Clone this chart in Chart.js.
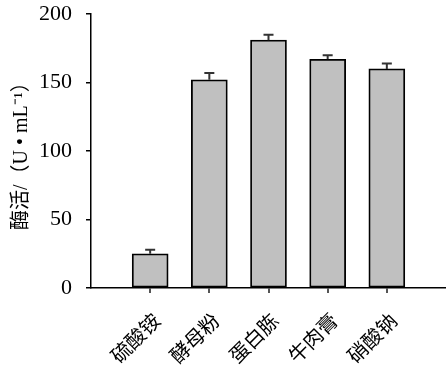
<!DOCTYPE html>
<html>
<head>
<meta charset="utf-8">
<script src="https://cdn.jsdelivr.net/npm/chart.js@4"></script>
<style>
  body { margin: 0; background: #fff; }
</style>
</head>
<body>
<canvas id="enzymeChart" width="446" height="367"></canvas>
<script>
  // nitrogen sources and enzyme activity (U/mL)
  const categories = ["硫酸铵", "酵母粉", "蛋白胨", "牛肉膏", "硝酸钠"];
  const activity = [25, 152, 181, 167, 160];
  const errors = [3, 5, 4, 3, 4];
  const yTicks = [0, 50, 100, 150, 200];

  const serif = "'Liberation Serif', 'Noto Sans CJK SC', serif";

  // draw the upward error bars through the chart scales
  const errorBars = {
    id: "errorBars",
    afterDatasetsDraw(chart) {
      const ctx = chart.ctx;
      const xs = chart.scales.x;
      const ys = chart.scales.y;
      ctx.save();
      ctx.strokeStyle = "#333";
      ctx.lineWidth = 2;
      activity.forEach(function (v, i) {
        const x = xs.getPixelForValue(i + 1);
        const yTop = ys.getPixelForValue(v + errors[i]);
        const yBar = ys.getPixelForValue(v);
        ctx.beginPath();
        ctx.moveTo(x, yBar);
        ctx.lineTo(x, yTop);
        ctx.moveTo(x - 5, yTop);
        ctx.lineTo(x + 5, yTop);
        ctx.stroke();
      });
      ctx.restore();
    },
  };

  const ctx = document.getElementById("enzymeChart").getContext("2d");
  const myChart = new Chart(ctx, {
    type: "bar",
    data: {
      datasets: [{
        data: activity.map(function (v, i) { return { x: i + 1, y: v }; }),
        backgroundColor: "#c0c0c0",
        borderColor: "#000",
        borderWidth: 1.8,
        borderSkipped: false,
        barThickness: 36,
      }],
    },
    options: {
      responsive: false,
      animation: false,
      layout: { padding: { top: 0, left: 10, right: 0, bottom: 0 } },
      plugins: { legend: { display: false }, tooltip: { enabled: false } },
      scales: {
        x: {
          type: "linear",
          min: 0,
          max: 6,
          offset: false,
          afterBuildTicks(scale) {
            scale.ticks = categories.map(function (c, i) { return { value: i + 1 }; });
          },
          afterFit(scale) { scale.height = 79; },
          border: { display: true, color: "#000", width: 1.5 },
          grid: { offset: false, drawOnChartArea: false, drawTicks: true, tickLength: 5, color: "#555", lineWidth: 2 },
          ticks: {
            autoSkip: false,
            minRotation: 45,
            maxRotation: 45,
            padding: 17,
            labelOffset: 8,
            color: "#000",
            font: { family: serif, size: 20 },
            callback: function (value) { return categories[value - 1]; },
          },
        },
        y: {
          min: 0,
          max: 200,
          afterBuildTicks(scale) {
            scale.ticks = yTicks.map(function (v) { return { value: v }; });
          },
          afterFit(scale) { scale.width = 81; },
          border: { display: true, color: "#000", width: 1.5 },
          grid: { drawOnChartArea: false, drawTicks: true, tickLength: 5, color: "#000", lineWidth: 1.5 },
          ticks: {
            padding: 14,
            color: "#000",
            font: { family: serif, size: 22, lineHeight: 0.01 },
          },
          title: {
            display: true,
            text: "酶活/（U • mL⁻¹）",
            color: "#000",
            padding: 0,
            font: { family: serif, size: 20 },
          },
        },
      },
    },
    plugins: [errorBars],
  });
</script>
</body>
</html>
